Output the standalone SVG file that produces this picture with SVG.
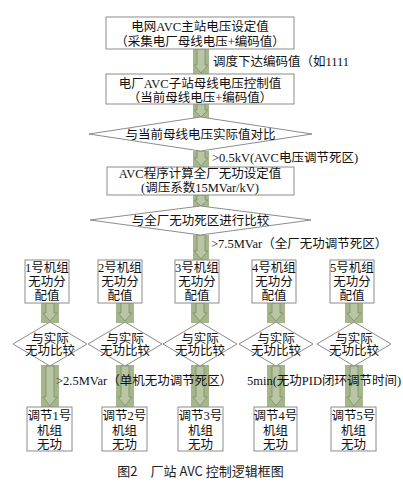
<svg xmlns="http://www.w3.org/2000/svg" width="403" height="488" viewBox="0 0 403 488">
<style>
.bx{fill:#fff;stroke:#8c8c8c;stroke-width:1}
.t{font-family:"Liberation Serif","Noto Sans CJK SC",serif;font-size:12.5px;fill:#111;text-anchor:middle}
.l{font-family:"Liberation Serif","Noto Sans CJK SC",serif;font-size:12.5px;fill:#111}
.g{fill:#a5b78a}
.ar{fill:#b9c6a3;stroke:#7e8b6c;stroke-width:0.8}
.cap{font-family:"Noto Sans CJK SC","Liberation Sans",sans-serif;font-size:13px;fill:#222;text-anchor:middle}
</style>
<rect width="403" height="488" fill="#fff"/>
<g id="connectors">
  <rect class="g" x="193" y="49" width="16" height="25"/>
  <polygon class="ar" points="197,49 205,49 205,65 208,65 201,73 194,65 197,65"/>
  <rect class="g" x="193" y="104" width="16" height="14"/>
  <polygon class="ar" points="197,104 205,104 205,110 208,110 201,117 194,110 197,110"/>
  <rect class="g" x="193" y="151" width="16" height="16"/>
  <polygon class="ar" points="197,151 205,151 205,158 208,158 201,166 194,158 197,158"/>
  <rect class="g" x="193" y="195" width="16" height="12"/>
  <polygon class="ar" points="197,195 205,195 205,200 208,200 201,206 194,200 197,200"/>
  <rect class="g" x="193" y="235" width="16" height="25"/>
  <polygon class="ar" points="197,235 205,235 205,251 208,251 201,259 194,251 197,251"/>
  <rect class="g" x="41" y="303" width="18" height="20"/>
  <polygon class="ar" points="46,303 54,303 54,313 57,313 50,321 43,313 46,313"/>
  <rect class="g" x="116" y="303" width="18" height="20"/>
  <polygon class="ar" points="121,303 129,303 129,313 132,313 125,321 118,313 121,313"/>
  <rect class="g" x="191" y="303" width="18" height="20"/>
  <polygon class="ar" points="196,303 204,303 204,313 207,313 200,321 193,313 196,313"/>
  <rect class="g" x="267" y="303" width="18" height="20"/>
  <polygon class="ar" points="272,303 280,303 280,313 283,313 276,321 269,313 272,313"/>
  <rect class="g" x="345" y="303" width="18" height="20"/>
  <polygon class="ar" points="350,303 358,303 358,313 361,313 354,321 347,313 350,313"/>
  <rect class="g" x="41" y="365" width="18" height="43"/>
  <polygon class="ar" points="46,366 54,366 54,397 57,397 50,406 43,397 46,397"/>
  <rect class="g" x="116" y="365" width="18" height="43"/>
  <polygon class="ar" points="121,366 129,366 129,397 132,397 125,406 118,397 121,397"/>
  <rect class="g" x="191" y="365" width="18" height="43"/>
  <polygon class="ar" points="196,366 204,366 204,397 207,397 200,406 193,397 196,397"/>
  <rect class="g" x="267" y="365" width="18" height="43"/>
  <polygon class="ar" points="272,366 280,366 280,397 283,397 276,406 269,397 272,397"/>
  <rect class="g" x="345" y="365" width="18" height="43"/>
  <polygon class="ar" points="350,366 358,366 358,397 361,397 354,406 347,397 350,397"/>
  <text class="l" x="213" y="65.5">调度下达编码值（如1111</text>
  <text class="l" x="212" y="161.5">&gt;0.5kV(AVC电压调节死区)</text>
  <text class="l" x="211" y="247.5">&gt;7.5MVar（全厂无功调节死区）</text>
  <text class="l" x="56" y="384.5">&gt;2.5MVar（单机无功调节死区）</text>
  <text class="l" x="247" y="384.5">5min(无功PID闭环调节时间)</text>
</g>
<g id="n_master">
  <rect class="bx" x="106" y="17" width="188" height="32"/>
  <text class="t" x="200" y="31">电网AVC主站电压设定值</text>
  <text class="t" x="200" y="45.5">（采集电厂母线电压+编码值）</text>
</g>
<g id="n_sub">
  <rect class="bx" x="106" y="74" width="188" height="30"/>
  <text class="t" x="200" y="87.5">电厂AVC子站母线电压控制值</text>
  <text class="t" x="200" y="101.5">（当前母线电压+编码值）</text>
</g>
<g id="n_cmp1">
  <polygon class="bx" points="89,134 200.5,117 312,134 200.5,151"/>
  <text class="t" x="200.5" y="138.5">与当前母线电压实际值对比</text>
</g>
<g id="n_calc">
  <rect class="bx" x="107" y="167" width="187" height="28"/>
  <text class="t" x="200" y="177.5">AVC程序计算全厂无功设定值</text>
  <text class="t" x="200" y="191.5">(调压系数15MVar/kV)</text>
</g>
<g id="n_cmp2">
  <polygon class="bx" points="90,220 200.5,206 311,220 200.5,235"/>
  <text class="t" x="200.5" y="224.5">与全厂无功死区进行比较</text>
</g>
<g id="n_u1">
  <rect class="bx" x="25" y="260" width="44" height="43"/>
  <text class="t" x="47" y="271.5">1号机组</text><text class="t" x="47" y="286">无功分</text><text class="t" x="47" y="300">配值</text>
</g>
<g id="n_u2">
  <rect class="bx" x="98" y="260" width="44" height="43"/>
  <text class="t" x="120" y="271.5">2号机组</text><text class="t" x="120" y="286">无功分</text><text class="t" x="120" y="300">配值</text>
</g>
<g id="n_u3">
  <rect class="bx" x="175" y="260" width="44" height="43"/>
  <text class="t" x="197" y="271.5">3号机组</text><text class="t" x="197" y="286">无功分</text><text class="t" x="197" y="300">配值</text>
</g>
<g id="n_u4">
  <rect class="bx" x="252" y="260" width="44" height="43"/>
  <text class="t" x="274" y="271.5">4号机组</text><text class="t" x="274" y="286">无功分</text><text class="t" x="274" y="300">配值</text>
</g>
<g id="n_u5">
  <rect class="bx" x="330" y="260" width="44" height="43"/>
  <text class="t" x="352" y="271.5">5号机组</text><text class="t" x="352" y="286">无功分</text><text class="t" x="352" y="300">配值</text>
</g>
<g id="n_d1">
  <polygon class="bx" points="13,344 50,322 87,344 50,366"/>
  <text class="t" x="50" y="342.5">与实际</text><text class="t" x="50" y="355">无功比较</text>
</g>
<g id="n_d2">
  <polygon class="bx" points="88,344 125,322 162,344 125,366"/>
  <text class="t" x="125" y="342.5">与实际</text><text class="t" x="125" y="355">无功比较</text>
</g>
<g id="n_d3">
  <polygon class="bx" points="163,344 200,322 237,344 200,366"/>
  <text class="t" x="200" y="342.5">与实际</text><text class="t" x="200" y="355">无功比较</text>
</g>
<g id="n_d4">
  <polygon class="bx" points="239,344 276,322 313,344 276,366"/>
  <text class="t" x="276" y="342.5">与实际</text><text class="t" x="276" y="355">无功比较</text>
</g>
<g id="n_d5">
  <polygon class="bx" points="317,344 354,322 391,344 354,366"/>
  <text class="t" x="354" y="342.5">与实际</text><text class="t" x="354" y="355">无功比较</text>
</g>
<g id="n_a1">
  <rect class="bx" x="27" y="407" width="45" height="44"/>
  <text class="t" x="49.5" y="419.5">调节1号</text><text class="t" x="49.5" y="434.5">机组</text><text class="t" x="49.5" y="448.5">无功</text>
</g>
<g id="n_a2">
  <rect class="bx" x="102" y="407" width="45" height="44"/>
  <text class="t" x="124.5" y="419.5">调节2号</text><text class="t" x="124.5" y="434.5">机组</text><text class="t" x="124.5" y="448.5">无功</text>
</g>
<g id="n_a3">
  <rect class="bx" x="178" y="407" width="45" height="44"/>
  <text class="t" x="200.5" y="419.5">调节3号</text><text class="t" x="200.5" y="434.5">机组</text><text class="t" x="200.5" y="448.5">无功</text>
</g>
<g id="n_a4">
  <rect class="bx" x="254" y="407" width="43" height="44"/>
  <text class="t" x="275.5" y="419.5">调节4号</text><text class="t" x="275.5" y="434.5">机组</text><text class="t" x="275.5" y="448.5">无功</text>
</g>
<g id="n_a5">
  <rect class="bx" x="331" y="407" width="45" height="44"/>
  <text class="t" x="353.5" y="419.5">调节5号</text><text class="t" x="353.5" y="434.5">机组</text><text class="t" x="353.5" y="448.5">无功</text>
</g>
<text class="cap" x="200.5" y="476">图2　厂站 AVC 控制逻辑框图</text>
</svg>
